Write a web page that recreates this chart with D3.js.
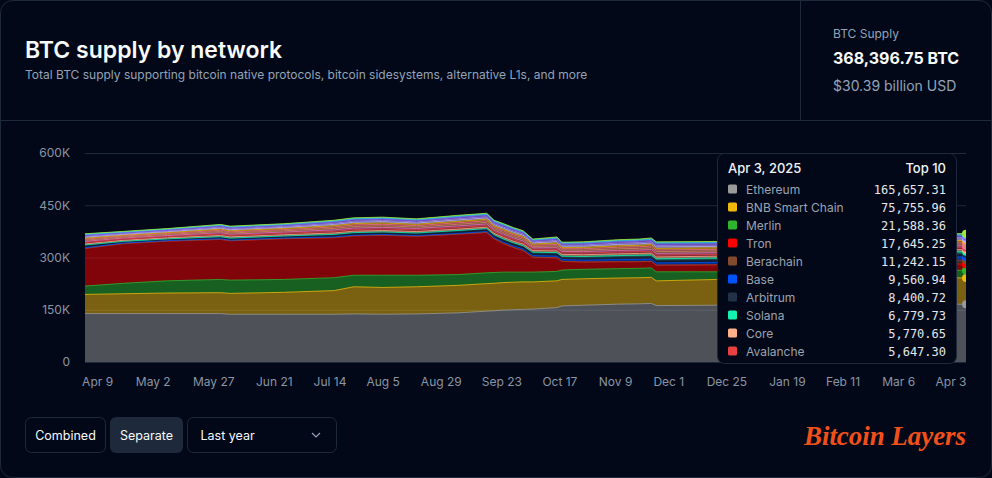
<!DOCTYPE html>
<html>
<head>
<meta charset="utf-8">
<script src="https://cdn.jsdelivr.net/npm/d3@7"></script>
<style>
  body { margin: 0; background: #020817; font-family: Inter, "Noto Sans", sans-serif; }
  svg { display: block; }
</style>
</head>
<body>
<div class="chart"></div>
<script>
// sample dates (daily data thinned to the points where the curve changes)
const dates = ["2024-04-04","2024-04-20","2024-05-08","2024-05-30","2024-06-03","2024-06-25","2024-07-16","2024-07-24",
               "2024-08-05","2024-08-19","2024-09-05","2024-09-17","2024-09-20","2024-09-24","2024-09-28","2024-10-02",
               "2024-10-06","2024-10-16","2024-10-18","2024-10-27","2024-11-10","2024-11-19","2024-11-24","2024-11-26",
               "2024-12-21","2025-01-10","2025-01-30","2025-02-10","2025-02-25","2025-03-15","2025-03-25","2025-04-03"];

// BTC supply per network, in thousands of BTC
const ethereum  = [139,139,139,139,137,137,137,138,137,138,141,146,147,149,150,151,152,156,161,163,166,167,168,162,163,164,165,166,167,166,166,165.65731];
const bnb       = [55,57,59,60,60,63,68,78,77,78,79,79,79,79,79,79,78,77,76,76,75,75,75,71,74,74,75,75,76,76,76,75.75596];
const merlin    = [24,30,35,38,38,37,37,33,35,33,31,31,31,30,29,28,28,27,27,27,27,27,27,26,22,22,22,22,22,22,21.8,21.58836];
const tron      = [108,114,114,115,113,117,115,113,115,112,116,116,97,82,71,62,43,39,25,21,20,19,19,19,20,19,18,18,18,18,17.8,17.64525];
const berachain = [0,0,0,0,0,0,0,0,0,0,0,0,0,0,0,0,0,0,0,0,0,0,0,0,0,0,0,6,9,10.5,11,11.24215];
const base      = [2,1.5,1.5,1.8,1.8,1.8,2,2,2,2,2,2.5,3,3.5,4,4.5,4.5,5,5,5.5,6,6.5,6.5,6.5,7,7.5,8,8.5,9,9.3,9.5,9.56094];
const arbitrum  = [7,4,4,5,5,5,6,6,6,6,6.5,6.5,6.5,7,7,7,7,7,7,7,7.5,7.5,7.5,7.5,7.5,8,8,8,8.2,8.3,8.4,8.40072];
const solana    = [1,1,1,1,1,1,1.5,1.5,1.5,1.5,2,2,2,2.5,2.5,2.5,3,3,3,3.5,4,4.5,4.5,4.5,5,5.5,6,6.2,6.5,6.6,6.75,6.77973];
const core      = [3,3,3,3.5,3.5,3.5,4,4,4,4,4,4,4,4.5,4.5,4.5,4.5,5,5,5,5,5.2,5.2,5.2,5.3,5.4,5.5,5.6,5.7,5.7,5.75,5.77065];
const avalanche = [4,3.5,3.5,4,4,4,4.5,4.5,4.5,4.5,4.5,4.5,4.5,4.5,4.5,4.5,4,4.5,4.5,4.5,4.8,5,5,5,5,5.2,5.3,5.4,5.5,5.6,5.65,5.6473];
const rootstock = [3.4,3.0,3.1,3.8,3.6,3.8,4.4,4.6,4.6,4.4,4.8,4.8,4.5,4.8,4.7,4.6,3.9,4.8,4.1,4.4,4.9,4.9,5.2,5.2,5.1,5.2,5.3,5.5,5.5,5.4,5.5,5.5];
const stacks    = [3.3,2.9,3.0,3.6,3.5,3.6,4.2,4.5,4.5,4.2,4.6,4.7,4.3,4.6,4.5,4.5,3.8,4.7,4.0,4.3,4.7,4.8,5.0,5.0,4.9,5.0,5.1,5.3,5.3,5.2,5.3,5.3];
const bob       = [3.1,2.7,2.9,3.4,3.3,3.4,4.0,4.2,4.2,4.0,4.3,4.4,4.1,4.3,4.3,4.2,3.6,4.4,3.8,4.0,4.4,4.5,4.7,4.7,4.6,4.8,4.9,5.0,5.0,5.0,5.0,5.0];
const bitlayer  = [3.0,2.6,2.7,3.3,3.2,3.3,3.8,4.0,4.0,3.8,4.2,4.2,3.9,4.2,4.1,4.0,3.5,4.2,3.6,3.9,4.2,4.3,4.6,4.6,4.4,4.6,4.7,4.8,4.8,4.8,4.8,4.8];
const optimism  = [2.8,2.5,2.6,3.1,3.0,3.1,3.6,3.8,3.8,3.6,3.9,4.0,3.7,3.9,3.9,3.8,3.2,4.0,3.4,3.6,4.0,4.1,4.3,4.3,4.2,4.3,4.4,4.5,4.5,4.5,4.5,4.5];
const mantle    = [2.6,2.3,2.4,2.9,2.8,2.9,3.3,3.5,3.5,3.3,3.6,3.7,3.4,3.6,3.6,3.5,3.0,3.7,3.2,3.4,3.7,3.8,4.0,4.0,3.9,4.0,4.1,4.2,4.2,4.2,4.2,4.2];
const polygon   = [2.4,2.1,2.2,2.6,2.5,2.6,3.0,3.2,3.2,3.0,3.3,3.3,3.1,3.3,3.2,3.2,2.7,3.3,2.9,3.1,3.4,3.4,3.6,3.6,3.5,3.6,3.7,3.8,3.8,3.8,3.8,3.8];
const bsquared  = [2.0,1.7,1.8,2.2,2.1,2.2,2.5,2.7,2.7,2.5,2.8,2.8,2.6,2.8,2.7,2.7,2.3,2.8,2.4,2.6,2.8,2.9,3.0,3.0,2.9,3.0,3.1,3.2,3.2,3.2,3.2,3.2];
const sui       = [1.5,1.3,1.4,1.6,1.6,1.6,1.9,2.0,2.0,1.9,2.1,2.1,1.9,2.1,2.0,2.0,1.7,2.1,1.8,1.9,2.1,2.1,2.3,2.3,2.2,2.3,2.3,2.4,2.4,2.4,2.4,2.4];
const aptos     = [1.0,0.9,0.9,1.1,1.1,1.1,1.3,1.4,1.4,1.3,1.4,1.5,1.4,1.4,1.4,1.4,1.2,1.5,1.3,1.3,1.5,1.5,1.6,1.6,1.5,1.6,1.6,1.7,1.6,1.6,1.65,1.65];

const networks = ["Ethereum","BNB Smart Chain","Merlin","Tron","Berachain","Base","Arbitrum","Solana","Core","Avalanche",
                  "Rootstock","Stacks","BOB","Bitlayer","Optimism","Mantle","Polygon","B² Network","Sui","Aptos"];
const networkValues = [ethereum,bnb,merlin,tron,berachain,base,arbitrum,solana,core,avalanche,
                       rootstock,stacks,bob,bitlayer,optimism,mantle,polygon,bsquared,sui,aptos];
const networkColors = ["#9a9a9a","#f0b90b","#2db52d","#ff0000","#814a2c","#0052ff","#213147","#14f1b0","#ffb08a","#e84142",
                       "#f472b6","#d4915c","#fb7185","#eab308","#c4b5fd","#a78bfa","#8b5cf6","#60a5fa","#22d3ee","#a3e635"];

const xTickDates  = ["2024-04-09","2024-05-02","2024-05-27","2024-06-21","2024-07-14","2024-08-05","2024-08-29","2024-09-23",
                     "2024-10-17","2024-11-09","2024-12-01","2024-12-25","2025-01-19","2025-02-11","2025-03-06","2025-04-03"];
const xTickLabels = ["Apr 9","May 2","May 27","Jun 21","Jul 14","Aug 5","Aug 29","Sep 23",
                     "Oct 17","Nov 9","Dec 1","Dec 25","Jan 19","Feb 11","Mar 6","Apr 3"];
const yTicks = [0, 150, 300, 450, 600];

const totalSupply = "368,396.75 BTC";
const totalUsd = "$30.39 billion USD";

const parseDate = d3.timeParse("%Y-%m-%d");
const fmt = d3.format(",.2f");

const W = 992, H = 478;
const plot = {left: 85, right: 966, top: 153, bottom: 362};

const svg = d3.select(".chart").append("svg")
              .attr("width", W).attr("height", H);

// card
svg.append("rect").attr("x", 0.5).attr("y", 0.5).attr("width", W - 1).attr("height", H - 1)
   .attr("rx", 12).attr("fill", "#020817").attr("stroke", "#1e293b");
svg.append("line").attr("x1", 1).attr("x2", W - 1).attr("y1", 120.5).attr("y2", 120.5).attr("stroke", "#1e293b");
svg.append("line").attr("x1", 800.5).attr("x2", 800.5).attr("y1", 1).attr("y2", 120).attr("stroke", "#1e293b");

// header
svg.append("text").attr("x", 25).attr("y", 58).text("BTC supply by network")
   .attr("fill", "#f8fafc").attr("font-size", 23).attr("font-weight", 600);
svg.append("text").attr("x", 25).attr("y", 79)
   .text("Total BTC supply supporting bitcoin native protocols, bitcoin sidesystems, alternative L1s, and more")
   .attr("fill", "#94a3b8").attr("font-size", 12);
svg.append("text").attr("x", 833).attr("y", 38).text("BTC Supply").attr("fill", "#94a3b8").attr("font-size", 12);
svg.append("text").attr("x", 833).attr("y", 64).text(totalSupply).attr("fill", "#f8fafc")
   .attr("font-size", 16).attr("font-weight", 700);
svg.append("text").attr("x", 833).attr("y", 91).text(totalUsd).attr("fill", "#94a3b8").attr("font-size", 14);

// data rows
const rows = dates.map((d, i) => {
    const row = {date: parseDate(d)};
    networks.forEach((n, j) => row[n] = networkValues[j][i]);
    return row;
});
const stacked = d3.stack().keys(networks)(rows);

const xScale = d3.scaleTime()
                 .domain(d3.extent(rows, d => d.date))
                 .range([plot.left, plot.right]);
const yScale = d3.scaleLinear()
                 .domain([0, 600])
                 .range([plot.bottom, plot.top]);

// grid
svg.append("g").selectAll("line").data(yTicks).join("line")
   .attr("x1", plot.left).attr("x2", plot.right)
   .attr("y1", d => yScale(d) + 0.5).attr("y2", d => yScale(d) + 0.5)
   .attr("stroke", "#1e293b");

svg.append("clipPath").attr("id", "clip")
   .append("rect").attr("x", plot.left).attr("y", 0).attr("width", plot.right - plot.left).attr("height", plot.bottom + 1);

const area = d3.area()
               .x(d => xScale(d.data.date))
               .y0(d => yScale(d[0]))
               .y1(d => yScale(d[1]));
const topLine = d3.line()
                  .x(d => xScale(d.data.date))
                  .y(d => yScale(d[1]));

const layers = svg.append("g").attr("clip-path", "url(#clip)");
layers.selectAll(".layer").data(stacked).join("path")
      .attr("class", "layer")
      .attr("d", area)
      .attr("fill", (d, i) => networkColors[i])
      .attr("fill-opacity", 0.5);
layers.selectAll(".edge").data(stacked).join("path")
      .attr("class", "edge")
      .attr("d", topLine)
      .attr("fill", "none")
      .attr("stroke", (d, i) => networkColors[i])
      .attr("stroke-opacity", 0.8)
      .attr("stroke-width", 1);
// active dots on hovered date
layers.selectAll(".dot").data(stacked).join("circle")
      .attr("class", "dot")
      .attr("cx", d => xScale(d[d.length - 1].data.date))
      .attr("cy", d => yScale(d[d.length - 1][1]))
      .attr("r", 4)
      .attr("fill", (d, i) => networkColors[i]);

// axes
const xAxis = d3.axisBottom(xScale)
                .tickValues(xTickDates.map(parseDate))
                .tickFormat((d, i) => xTickLabels[i])
                .tickSize(0).tickPadding(15);
const gx = svg.append("g").attr("transform", `translate(0,${plot.bottom})`).call(xAxis);
gx.select(".domain").remove();
gx.selectAll("text").attr("fill", "#8b95a5").attr("font-size", 12).attr("font-family", "Inter");
gx.selectAll(".tick:last-of-type text").attr("text-anchor", "end");

const yAxis = d3.axisLeft(yScale)
                .tickValues(yTicks)
                .tickFormat(v => v === 0 ? "0" : v + "K")
                .tickSize(0).tickPadding(15);
const gy = svg.append("g").attr("transform", `translate(${plot.left},0)`).call(yAxis);
gy.select(".domain").remove();
gy.selectAll("text").attr("fill", "#8b95a5").attr("font-size", 12).attr("font-family", "Inter");

// tooltip for the last date, top 10 networks
const last = dates.length - 1;
const tip = svg.append("g").attr("transform", "translate(717.5,153.5)");
tip.append("rect").attr("width", 239).attr("height", 210).attr("rx", 7)
   .attr("fill", "#020817").attr("stroke", "#1e293b");
tip.append("text").attr("x", 10.5).attr("y", 19.5).text(d3.timeFormat("%b %-d, %Y")(rows[last].date))
   .attr("fill", "#f1f5f9").attr("font-size", 13).attr("font-weight", 500);
tip.append("text").attr("x", 228.5).attr("y", 19.5).attr("text-anchor", "end").text("Top 10")
   .attr("fill", "#f1f5f9").attr("font-size", 13).attr("font-weight", 500);
const tipRows = tip.selectAll(".row").data(networks.slice(0, 10)).join("g")
                   .attr("class", "row")
                   .attr("transform", (d, i) => `translate(0,${36 + i * 18})`);
tipRows.append("rect").attr("x", 10.5).attr("y", -5).attr("width", 9).attr("height", 9).attr("rx", 1.5)
       .attr("fill", (d, i) => networkColors[i]);
tipRows.append("text").attr("x", 28.5).attr("y", 4.5).text(d => d)
       .attr("fill", "#9ca3af").attr("font-size", 12);
tipRows.append("text").attr("x", 228.5).attr("y", 4.5).attr("text-anchor", "end")
       .text((d, i) => fmt(networkValues[i][last] * 1000))
       .attr("fill", "#e5e7eb").attr("font-size", 12).attr("font-family", "DejaVu Sans Mono");

// controls
const controls = svg.append("g");
controls.append("rect").attr("x", 25.5).attr("y", 417.5).attr("width", 80).attr("height", 35).attr("rx", 6)
        .attr("fill", "none").attr("stroke", "#1e293b");
controls.append("text").attr("x", 65.5).attr("y", 435).attr("dominant-baseline", "central").attr("text-anchor", "middle")
        .text("Combined").attr("fill", "#f8fafc").attr("font-size", 12.5);
controls.append("rect").attr("x", 110).attr("y", 417).attr("width", 73).attr("height", 36).attr("rx", 6)
        .attr("fill", "#1e293b");
controls.append("text").attr("x", 146.5).attr("y", 435).attr("dominant-baseline", "central").attr("text-anchor", "middle")
        .text("Separate").attr("fill", "#f8fafc").attr("font-size", 12.5);
controls.append("rect").attr("x", 187.5).attr("y", 417.5).attr("width", 149).attr("height", 35).attr("rx", 6)
        .attr("fill", "none").attr("stroke", "#1e293b");
controls.append("text").attr("x", 200.5).attr("y", 435).attr("dominant-baseline", "central")
        .text("Last year").attr("fill", "#f8fafc").attr("font-size", 12.5);
controls.append("path").attr("d", "M312,433 L316,437 L320,433")
        .attr("fill", "none").attr("stroke", "#94a3b8").attr("stroke-width", 1.2);

svg.append("text").attr("x", 966).attr("y", 445).attr("text-anchor", "end")
   .text("Bitcoin Layers")
   .attr("font-family", "Liberation Serif").attr("font-style", "italic").attr("font-weight", 700)
   .attr("font-size", 28).attr("textLength", 162).attr("lengthAdjust", "spacingAndGlyphs")
   .attr("fill", "#f2501a");
</script>
</body>
</html>
